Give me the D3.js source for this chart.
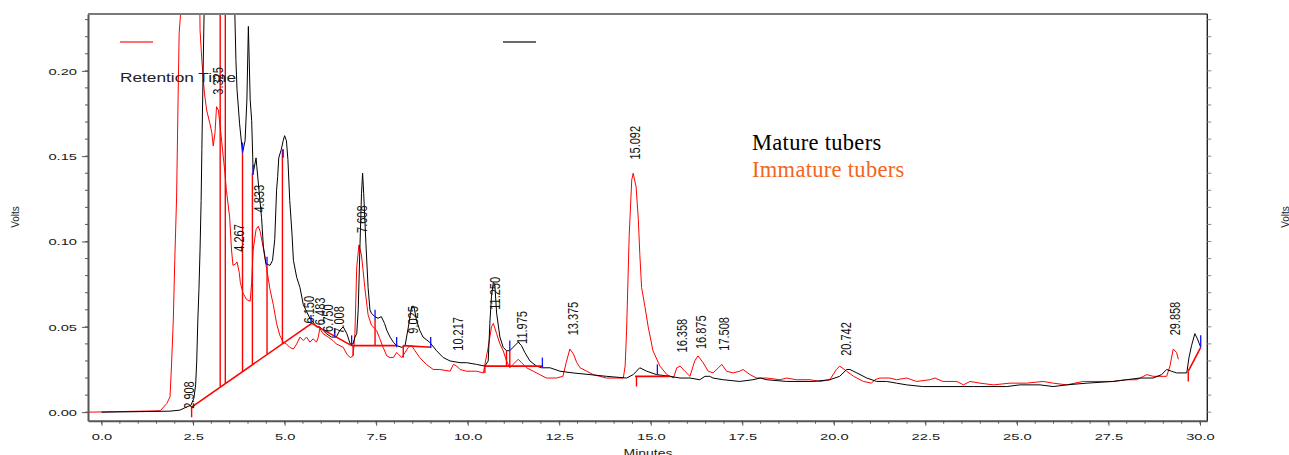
<!DOCTYPE html>
<html>
<head>
<meta charset="utf-8">
<script src="https://cdnjs.cloudflare.com/ajax/libs/d3/7.8.5/d3.min.js"></script>
<style>
  body { margin: 0; background: #fff; overflow: hidden; }
  svg { display: block; }
  text { font-family: "Liberation Sans", Arial, sans-serif; }
</style>
</head>
<body>
<div id="chart"></div>
<script>
// Mature tubers trace (black): [minutes, volts]. Values above 0.233 are off-scale in the original.
var mature = [
  [0.00, 0.000], [1.04, 0.0003], [1.87, 0.0006], [2.14, 0.0012], [2.33, 0.0031], [2.44, 0.004],
  [2.52, 0.008], [2.57, 0.016], [2.60, 0.030], [2.63, 0.054], [2.66, 0.072], [2.69, 0.095],
  [2.72, 0.124], [2.74, 0.154], [2.77, 0.195], [2.80, 0.233], [2.83, 0.30], [3.61, 0.30],
  [3.64, 0.234], [3.67, 0.206], [3.70, 0.189], [3.77, 0.169], [3.85, 0.152], [3.92, 0.159],
  [3.97, 0.183], [4.01, 0.226], [4.06, 0.183], [4.10, 0.171], [4.13, 0.149], [4.14, 0.140],
  [4.22, 0.149], [4.24, 0.144], [4.30, 0.130], [4.37, 0.114], [4.42, 0.097], [4.49, 0.087],
  [4.60, 0.086], [4.67, 0.089], [4.73, 0.101], [4.78, 0.130], [4.81, 0.138], [4.84, 0.149],
  [4.91, 0.154], [4.96, 0.159], [5.00, 0.162], [5.05, 0.159], [5.09, 0.148], [5.14, 0.124],
  [5.20, 0.105], [5.24, 0.089], [5.33, 0.079], [5.42, 0.073], [5.51, 0.063], [5.60, 0.059],
  [5.69, 0.055], [5.77, 0.053], [5.87, 0.050], [5.96, 0.050], [6.05, 0.048], [6.14, 0.046],
  [6.28, 0.044], [6.41, 0.044], [6.51, 0.048], [6.60, 0.050], [6.70, 0.046], [6.79, 0.040],
  [6.87, 0.040], [6.92, 0.044], [6.97, 0.046], [7.01, 0.060], [7.06, 0.099], [7.10, 0.128],
  [7.13, 0.140], [7.16, 0.128], [7.22, 0.099], [7.28, 0.073], [7.33, 0.060], [7.37, 0.058],
  [7.46, 0.056], [7.55, 0.055], [7.64, 0.056], [7.73, 0.052], [7.79, 0.048], [7.88, 0.044],
  [7.97, 0.041], [8.06, 0.039], [8.20, 0.038], [8.29, 0.039], [8.38, 0.050], [8.47, 0.062],
  [8.53, 0.062], [8.60, 0.054], [8.69, 0.048], [8.78, 0.044], [8.96, 0.041], [9.15, 0.036],
  [9.33, 0.032], [9.52, 0.030], [9.79, 0.029], [9.97, 0.029], [10.24, 0.028], [10.47, 0.027],
  [10.56, 0.030], [10.61, 0.054], [10.65, 0.068], [10.70, 0.076], [10.74, 0.075], [10.79, 0.058],
  [10.88, 0.044], [10.97, 0.038], [11.06, 0.036], [11.15, 0.036], [11.24, 0.038], [11.38, 0.041],
  [11.47, 0.039], [11.56, 0.035], [11.70, 0.030], [11.88, 0.027], [12.02, 0.026], [12.25, 0.026],
  [12.52, 0.024], [12.87, 0.023], [13.34, 0.022], [13.79, 0.021], [14.34, 0.020], [14.52, 0.022],
  [14.70, 0.026], [14.89, 0.024], [15.16, 0.022], [15.53, 0.021], [15.80, 0.020], [16.07, 0.020],
  [16.34, 0.019], [16.48, 0.021], [16.61, 0.021], [16.70, 0.020], [16.98, 0.019], [17.43, 0.018],
  [17.79, 0.019], [17.99, 0.020], [18.17, 0.019], [18.71, 0.018], [19.44, 0.018], [19.89, 0.019],
  [20.16, 0.021], [20.35, 0.025], [20.44, 0.025], [20.63, 0.023], [20.90, 0.020], [21.17, 0.018],
  [21.44, 0.018], [21.71, 0.017], [21.99, 0.016], [22.43, 0.015], [23.09, 0.015], [23.81, 0.015],
  [24.72, 0.015], [25.08, 0.016], [25.63, 0.016], [25.99, 0.015], [26.36, 0.016], [26.91, 0.017],
  [27.63, 0.018], [27.99, 0.019], [28.36, 0.020], [28.72, 0.020], [28.95, 0.022], [29.09, 0.025],
  [29.22, 0.024], [29.36, 0.023], [29.64, 0.023], [29.70, 0.032], [29.77, 0.039], [29.86, 0.046],
  [29.93, 0.043], [30.02, 0.038]
];

// Immature tubers trace (red)
var immature = [
  [-0.37, 0.000], [1.60, 0.0008], [1.78, 0.005], [1.87, 0.009], [1.91, 0.027], [1.96, 0.054],
  [2.00, 0.089], [2.05, 0.126], [2.09, 0.183], [2.12, 0.222], [2.16, 0.234], [2.18, 0.30],
  [2.66, 0.30], [2.69, 0.224], [2.74, 0.206], [2.78, 0.195], [2.81, 0.187], [2.87, 0.177],
  [2.96, 0.169], [3.01, 0.164], [3.05, 0.156], [3.10, 0.164], [3.14, 0.179], [3.19, 0.177],
  [3.28, 0.159], [3.37, 0.140], [3.41, 0.130], [3.50, 0.114], [3.55, 0.095], [3.59, 0.086],
  [3.67, 0.087], [3.70, 0.088], [3.76, 0.082], [3.79, 0.076], [3.86, 0.070], [3.96, 0.066],
  [4.06, 0.065], [4.10, 0.076], [4.14, 0.095], [4.22, 0.107], [4.28, 0.109], [4.33, 0.106],
  [4.42, 0.096], [4.51, 0.084], [4.60, 0.072], [4.69, 0.063], [4.78, 0.052], [4.87, 0.045],
  [4.96, 0.041], [5.05, 0.040], [5.14, 0.038], [5.24, 0.037], [5.33, 0.040], [5.42, 0.044],
  [5.51, 0.042], [5.60, 0.044], [5.69, 0.041], [5.78, 0.043], [5.87, 0.041], [5.92, 0.044],
  [5.96, 0.049], [6.05, 0.046], [6.19, 0.044], [6.32, 0.042], [6.41, 0.040], [6.60, 0.038],
  [6.70, 0.034], [6.79, 0.032], [6.87, 0.033], [6.92, 0.046], [6.97, 0.085], [7.03, 0.098],
  [7.10, 0.092], [7.19, 0.073], [7.28, 0.057], [7.37, 0.051], [7.51, 0.048], [7.60, 0.043],
  [7.69, 0.038], [7.79, 0.033], [7.88, 0.032], [7.97, 0.032], [8.06, 0.035], [8.20, 0.032],
  [8.29, 0.035], [8.38, 0.038], [8.47, 0.039], [8.56, 0.036], [8.69, 0.032], [8.87, 0.028],
  [9.06, 0.025], [9.24, 0.025], [9.52, 0.024], [9.61, 0.028], [9.70, 0.027], [9.79, 0.025],
  [9.97, 0.024], [10.24, 0.024], [10.43, 0.023], [10.47, 0.028], [10.56, 0.038], [10.65, 0.050],
  [10.70, 0.052], [10.79, 0.046], [10.88, 0.040], [10.97, 0.036], [11.06, 0.030], [11.15, 0.026],
  [11.24, 0.028], [11.38, 0.031], [11.47, 0.029], [11.61, 0.026], [11.79, 0.024], [11.97, 0.022],
  [12.15, 0.020], [12.42, 0.020], [12.60, 0.021], [12.69, 0.029], [12.79, 0.037], [12.89, 0.034],
  [12.98, 0.029], [13.07, 0.026], [13.25, 0.024], [13.43, 0.022], [13.79, 0.020], [14.06, 0.020],
  [14.25, 0.020], [14.30, 0.027], [14.34, 0.048], [14.41, 0.103], [14.48, 0.136], [14.52, 0.140],
  [14.60, 0.132], [14.66, 0.113], [14.70, 0.093], [14.75, 0.073], [14.84, 0.062], [14.93, 0.050],
  [15.06, 0.036], [15.25, 0.027], [15.44, 0.022], [15.62, 0.020], [15.71, 0.026], [15.80, 0.027],
  [15.93, 0.024], [16.07, 0.021], [16.20, 0.030], [16.29, 0.033], [16.43, 0.029], [16.57, 0.024],
  [16.70, 0.023], [16.85, 0.026], [16.94, 0.028], [17.07, 0.024], [17.25, 0.023], [17.43, 0.024],
  [17.52, 0.025], [17.71, 0.022], [17.89, 0.020], [18.17, 0.020], [18.53, 0.019], [18.71, 0.020],
  [18.98, 0.019], [19.35, 0.019], [19.62, 0.018], [19.89, 0.019], [20.07, 0.025], [20.16, 0.027],
  [20.35, 0.024], [20.54, 0.021], [20.81, 0.018], [21.03, 0.017], [21.12, 0.019], [21.26, 0.020],
  [21.53, 0.020], [21.71, 0.019], [21.99, 0.020], [22.26, 0.018], [22.62, 0.019], [22.76, 0.020],
  [22.98, 0.018], [23.36, 0.018], [23.54, 0.016], [23.72, 0.018], [23.99, 0.017], [24.36, 0.016],
  [24.81, 0.017], [25.26, 0.017], [25.72, 0.018], [25.99, 0.017], [26.36, 0.016], [26.81, 0.018],
  [27.27, 0.018], [27.63, 0.018], [27.99, 0.019], [28.27, 0.019], [28.55, 0.022], [28.72, 0.021],
  [29.09, 0.021], [29.18, 0.027], [29.27, 0.037], [29.36, 0.035], [29.41, 0.031]
];

// integration baselines [t1, v1, t2, v2]
var baselines = [
  [2.46, 0.003, 5.74, 0.052], [5.74, 0.052, 6.83, 0.039], [6.83, 0.039, 8.06, 0.039],
  [8.24, 0.039, 9.01, 0.038], [10.47, 0.027, 12.06, 0.027], [14.57, 0.021, 15.52, 0.021],
  [29.68, 0.024, 30.02, 0.038]
];

// red drop lines [t, vLow, vHigh]
var drops = [
  [2.46, -0.003, 0.003], [3.24, 0.015, 0.30], [3.38, 0.017, 0.30], [3.85, 0.024, 0.152],
  [4.12, 0.028, 0.140], [4.52, 0.034, 0.086], [4.94, 0.040, 0.154], [6.87, 0.033, 0.039],
  [7.47, 0.039, 0.054], [8.24, 0.032, 0.039], [10.47, 0.023, 0.027], [11.06, 0.027, 0.036],
  [11.15, 0.027, 0.036], [14.61, 0.015, 0.021], [29.68, 0.018, 0.024]
];

// blue peak start/stop marks [t, vLow, vHigh]
var blueMarks = [
  [3.85, 0.152, 0.158], [4.14, 0.139, 0.145], [4.52, 0.086, 0.091], [4.96, 0.149, 0.154],
  [5.72, 0.052, 0.057], [6.37, 0.044, 0.049], [6.83, 0.039, 0.045], [7.47, 0.054, 0.060],
  [8.06, 0.038, 0.044], [8.99, 0.038, 0.044], [11.15, 0.036, 0.042], [12.04, 0.026, 0.032],
  [15.18, 0.022, 0.028], [30.02, 0.038, 0.045]
];

// retention time labels: text, position (minutes), volts at the foot of the label
var peakLabels = [
  ["2.908", 2.37, 0.002], ["3.325", 3.18, 0.186], ["4.267", 3.75, 0.094], ["4.833", 4.30, 0.117],
  ["6.150", 5.66, 0.052], ["6.483", 5.96, 0.051], ["6.750", 6.19, 0.047], ["7.008", 6.48, 0.046],
  ["7.608", 7.10, 0.105], ["9.025", 8.51, 0.046], ["10.217", 9.72, 0.036], ["11.250", 10.74, 0.060],
  ["11.975", 11.49, 0.040], ["13.375", 12.86, 0.045], ["15.092", 14.57, 0.148], ["16.358", 15.86, 0.035],
  ["16.875", 16.37, 0.037], ["17.508", 17.00, 0.036], ["20.742", 20.33, 0.033], ["29.858", 29.32, 0.045]
];

var xTicks = [0, 2.5, 5, 7.5, 10, 12.5, 15, 17.5, 20, 22.5, 25, 27.5, 30];
var yTicks = [0, 0.05, 0.10, 0.15, 0.20];
var seriesNames = ["Mature tubers", "Immature tubers"];

var width = 1289, height = 455;
var m = { left: 88, right: 1207.3, top: 14, bottom: 420.7 };

var x = d3.scaleLinear().domain([-0.37, 30.2]).range([m.left, m.right]);
var y = d3.scaleLinear().domain([-0.005, 0.2333]).range([m.bottom, m.top]);

var svg = d3.select("#chart").append("svg")
  .attr("width", width)
  .attr("height", height);

svg.append("defs").append("clipPath").attr("id", "plot")
  .append("rect")
  .attr("x", m.left).attr("y", m.top)
  .attr("width", m.right - m.left).attr("height", m.bottom - m.top);

var line = d3.line()
  .x(function(d) { return x(d[0]); })
  .y(function(d) { return y(d[1]); });

var plot = svg.append("g").attr("clip-path", "url(#plot)");

plot.append("path")
  .datum(immature)
  .attr("d", line)
  .style("fill", "none")
  .style("stroke", "#ff0000")
  .style("stroke-width", 1);

plot.append("path")
  .datum(mature)
  .attr("d", line)
  .style("fill", "none")
  .style("stroke", "#000")
  .style("stroke-width", 1);

// integration marks
plot.selectAll(".base")
  .data(baselines)
  .enter().append("line")
  .attr("x1", function(d) { return x(d[0]); })
  .attr("y1", function(d) { return y(d[1]); })
  .attr("x2", function(d) { return x(d[2]); })
  .attr("y2", function(d) { return y(d[3]); })
  .style("stroke", "#ff0000")
  .style("stroke-width", 1.6);

plot.selectAll(".drop")
  .data(drops)
  .enter().append("line")
  .attr("x1", function(d) { return x(d[0]); })
  .attr("x2", function(d) { return x(d[0]); })
  .attr("y1", function(d) { return y(d[1]); })
  .attr("y2", function(d) { return y(d[2]); })
  .style("stroke", "#ff0000")
  .style("stroke-width", 1.4);

svg.selectAll(".blue")
  .data(blueMarks)
  .enter().append("line")
  .attr("x1", function(d) { return x(d[0]); })
  .attr("x2", function(d) { return x(d[0]); })
  .attr("y1", function(d) { return y(d[1]); })
  .attr("y2", function(d) { return y(d[2]); })
  .style("stroke", "#1010ff")
  .style("stroke-width", 1.3);

// axes
var xAxis = svg.append("g")
  .attr("transform", "translate(0," + m.bottom + ")")
  .call(d3.axisBottom(x).tickValues(xTicks).tickFormat(d3.format(".1f")).tickSize(5).tickSizeOuter(0));

xAxis.append("g").selectAll("line")
  .data(d3.range(0, 30.01, 0.5))
  .enter().append("line")
  .attr("x1", function(d) { return x(d); })
  .attr("x2", function(d) { return x(d); })
  .attr("y1", 0).attr("y2", 3)
  .style("stroke", "#555");

var yAxis = svg.append("g")
  .attr("transform", "translate(" + m.left + ",0)")
  .call(d3.axisLeft(y).tickValues(yTicks).tickFormat(d3.format(".2f")).tickSize(6).tickSizeOuter(0));

yAxis.append("g").selectAll("line")
  .data(d3.range(0, 0.2301, 0.01))
  .enter().append("line")
  .attr("y1", function(d) { return y(d); })
  .attr("y2", function(d) { return y(d); })
  .attr("x1", 0).attr("x2", -3)
  .style("stroke", "#555");

[xAxis, yAxis].forEach(function(a) {
  a.select(".domain").style("stroke", "#555").style("stroke-width", 2);
  a.selectAll(".tick line").style("stroke", "#555");
  a.selectAll("text")
    .style("font-family", "'Liberation Sans', Arial, sans-serif")
    .style("font-size", "9.8px")
    .style("fill", "#1a1a1a");
});

xAxis.selectAll(".tick text")
  .attr("y", 19).attr("dy", 0)
  .attr("transform", "scale(1.5,1)");

yAxis.selectAll(".tick text")
  .attr("x", -7.3).attr("dy", "0.35em")
  .attr("transform", "scale(1.5,1)");

// top border and right axis
svg.append("line")
  .attr("x1", m.left).attr("x2", m.right)
  .attr("y1", m.top).attr("y2", m.top)
  .style("stroke", "#7a7a7a").style("stroke-width", 2);

var rAxis = svg.append("g").attr("transform", "translate(" + m.right + ",0)");
rAxis.append("line")
  .attr("y1", m.top).attr("y2", m.bottom)
  .style("stroke", "#222").style("stroke-width", 1.4);
rAxis.selectAll(".rt")
  .data(d3.range(0, 0.2301, 0.01))
  .enter().append("line")
  .attr("y1", function(d) { return y(d); })
  .attr("y2", function(d) { return y(d); })
  .attr("x1", 0).attr("x2", 4)
  .style("stroke", "#888");

// peak labels
svg.selectAll(".peak")
  .data(peakLabels)
  .enter().append("text")
  .attr("transform", function(d) {
    return "translate(" + x(d[1]) + "," + y(d[2]) + ") scale(1.35,1) rotate(-90)";
  })
  .attr("dy", "0.35em")
  .style("font-size", "11px")
  .style("fill", "#111")
  .text(function(d) { return d[0]; });

// axis titles
svg.append("text")
  .attr("transform", "translate(15,217) rotate(-90)")
  .attr("dy", "0.35em")
  .style("text-anchor", "middle")
  .style("font-size", "10px")
  .style("fill", "#222")
  .text("Volts");

svg.append("text")
  .attr("transform", "translate(1285,217) rotate(-90)")
  .attr("dy", "0.35em")
  .style("text-anchor", "middle")
  .style("font-size", "10px")
  .style("fill", "#222")
  .text("Volts");

svg.append("text")
  .attr("transform", "translate(648,457) scale(1.4,1)")
  .style("text-anchor", "middle")
  .style("font-size", "10px")
  .style("fill", "#222")
  .text("Minutes");

// legend remnants
svg.append("line")
  .attr("x1", 120).attr("x2", 153).attr("y1", 42).attr("y2", 42)
  .style("stroke", "#ff7070").style("stroke-width", 2);
svg.append("line")
  .attr("x1", 503).attr("x2", 536).attr("y1", 42).attr("y2", 42)
  .style("stroke", "#6a6a6a").style("stroke-width", 2);

svg.append("text")
  .attr("transform", "translate(120,82) scale(1.35,1)")
  .style("font-size", "12.8px")
  .style("fill", "#222")
  .text("Retention Time");

svg.append("text")
  .attr("x", 752).attr("y", 150)
  .style("font-family", "'Liberation Serif', 'Times New Roman', serif")
  .style("font-size", "22.5px")
  .style("letter-spacing", "0.3px")
  .style("fill", "#000")
  .text(seriesNames[0]);

svg.append("text")
  .attr("x", 752).attr("y", 177)
  .style("font-family", "'Liberation Serif', 'Times New Roman', serif")
  .style("font-size", "22.5px")
  .style("letter-spacing", "0.3px")
  .style("fill", "#f26522")
  .text(seriesNames[1]);
</script>
</body>
</html>
